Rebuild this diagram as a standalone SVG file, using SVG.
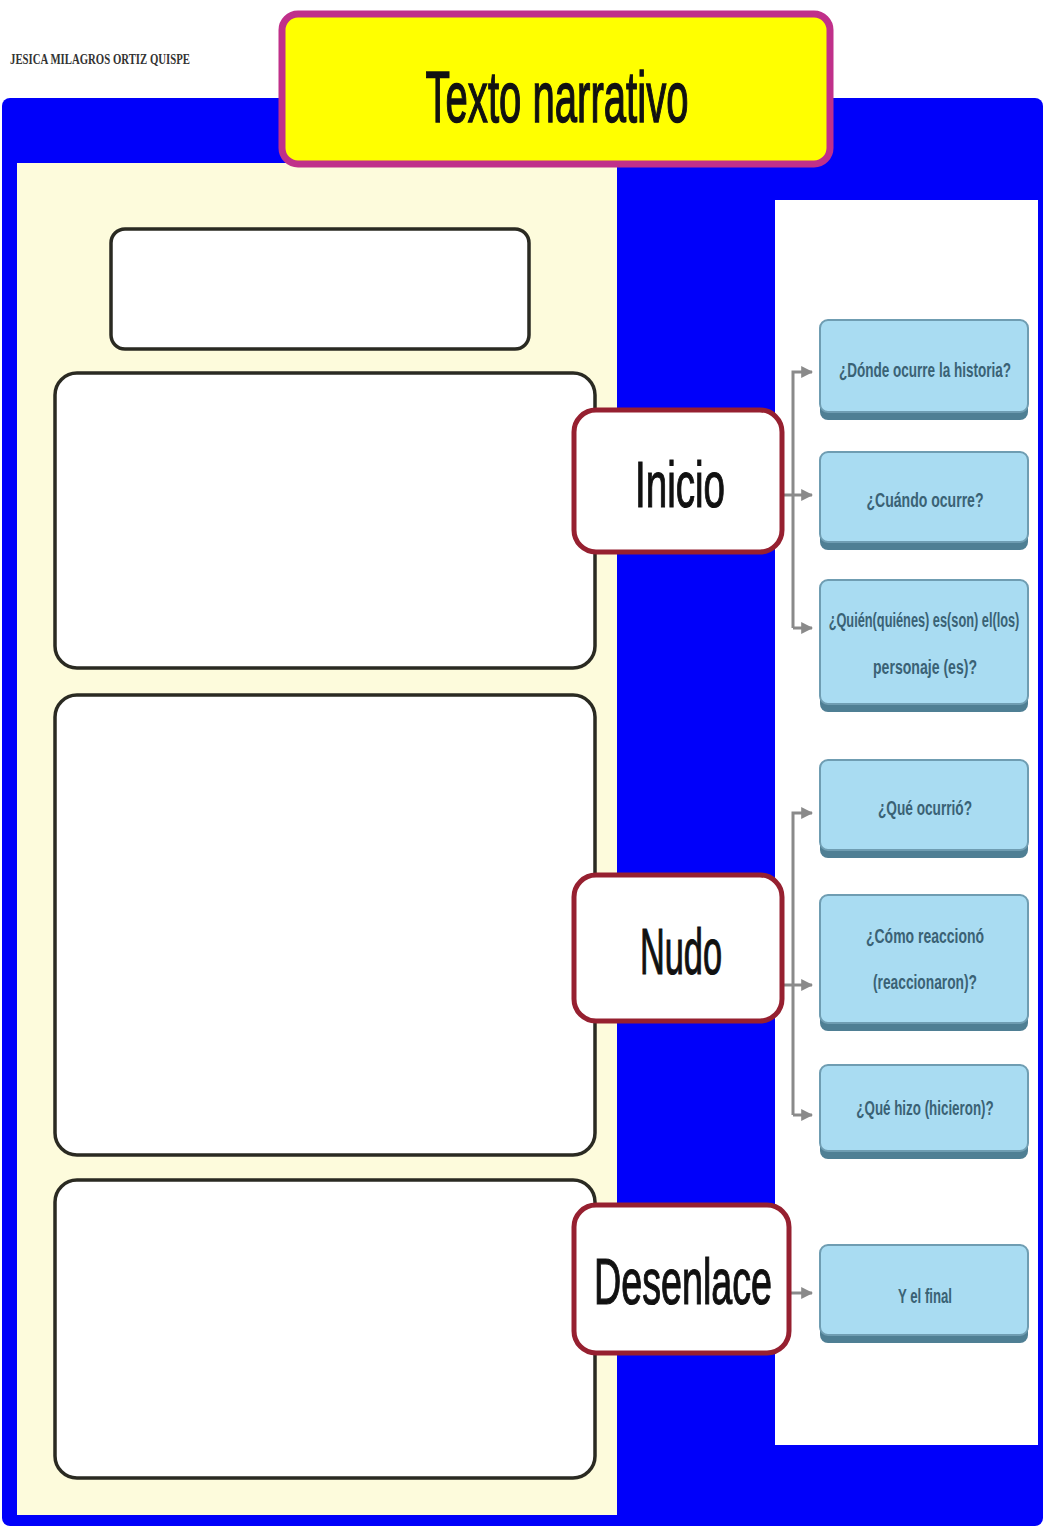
<svg xmlns="http://www.w3.org/2000/svg" width="1043" height="1532" viewBox="0 0 1043 1532">
  <style>
    .wbox { fill: #ffffff; stroke: #2a2a22; stroke-width: 3.5; }
    .stage { fill: #ffffff; stroke: #962030; stroke-width: 5; }
    .stagetxt { font-family: "Liberation Sans", Arial, sans-serif; font-size: 64px; fill: #111; stroke: #111; stroke-width: 1.2; text-anchor: middle; }
    .q { fill: #a9dcf2; stroke: #6f9db2; stroke-width: 2; }
    .qsh { fill: #4f7f94; }
    .qtxt { font-family: "Liberation Sans", Arial, sans-serif; font-size: 20px; font-weight: bold; fill: #3a6275; text-anchor: middle; }
    .conn { fill: none; stroke: #8a8a8a; stroke-width: 3; }
  </style>
  <defs>
    <marker id="arr" viewBox="0 0 10 10" refX="9" refY="5" markerWidth="4" markerHeight="4" orient="auto">
      <path d="M0,0 L10,5 L0,10 z" fill="#8a8a8a"/>
    </marker>
  </defs>
  <rect width="1043" height="1532" fill="#ffffff"/>
  <g id="frame">
    <rect x="2" y="98" width="1041" height="1428" rx="8" fill="#0000fa"/>
    <rect x="17" y="163" width="600" height="1352" fill="#fdfbdc"/>
    <rect x="775" y="200" width="263" height="1245" fill="#ffffff"/>
  </g>
  <text x="10" y="64" font-family="Liberation Serif, serif" font-size="14" font-weight="bold" fill="#333" textLength="180" lengthAdjust="spacingAndGlyphs">JESICA MILAGROS ORTIZ QUISPE</text>
  <g id="title">
    <rect x="282" y="14" width="548" height="150" rx="16" fill="#ffff00" stroke="#c0308a" stroke-width="7"/>
    <text x="557" y="122" font-family="Liberation Sans, Arial, sans-serif" font-size="72" fill="#111" stroke="#111" stroke-width="1.5" text-anchor="middle" textLength="263" lengthAdjust="spacingAndGlyphs">Texto narrativo</text>
  </g>
  <g id="box-title"><rect class="wbox" x="111" y="229" width="418" height="120" rx="14"/></g>
  <g id="box-inicio"><rect class="wbox" x="55" y="373" width="540" height="295" rx="22"/></g>
  <g id="box-nudo"><rect class="wbox" x="55" y="695" width="540" height="460" rx="22"/></g>
  <g id="box-desenlace"><rect class="wbox" x="55" y="1180" width="540" height="298" rx="22"/></g>
  <g id="connectors">
    <path class="conn" d="M783,495 L812,495" marker-end="url(#arr)"/>
    <path class="conn" d="M793,628 L793,372 L812,372" marker-end="url(#arr)"/>
    <path class="conn" d="M793,628 L812,628" marker-end="url(#arr)"/>
    <path class="conn" d="M783,985 L812,985" marker-end="url(#arr)"/>
    <path class="conn" d="M793,1115 L793,813 L812,813" marker-end="url(#arr)"/>
    <path class="conn" d="M793,1115 L812,1115" marker-end="url(#arr)"/>
    <path class="conn" d="M790,1293 L812,1293" marker-end="url(#arr)"/>
  </g>
  <g id="inicio">
    <rect class="stage" x="574" y="410" width="208" height="142" rx="22"/>
    <text class="stagetxt" x="680" y="507" textLength="90" lengthAdjust="spacingAndGlyphs">Inicio</text>
  </g>
  <g id="nudo">
    <rect class="stage" x="574" y="875" width="208" height="146" rx="22"/>
    <text class="stagetxt" x="681" y="974" textLength="82" lengthAdjust="spacingAndGlyphs">Nudo</text>
  </g>
  <g id="desenlace">
    <rect class="stage" x="574" y="1205" width="215" height="148" rx="22"/>
    <text class="stagetxt" x="683" y="1304" textLength="178" lengthAdjust="spacingAndGlyphs">Desenlace</text>
  </g>
  <g id="q1">
    <rect class="qsh" x="820" y="322" width="208" height="98" rx="8"/>
    <rect class="q" x="820" y="320" width="208" height="92" rx="8"/>
    <text class="qtxt" transform="translate(925,377) scale(0.68,1)" x="0" y="0" textLength="253" lengthAdjust="spacingAndGlyphs">¿Dónde ocurre la historia?</text>
  </g>
  <g id="q2">
    <rect class="qsh" x="820" y="454" width="208" height="96" rx="8"/>
    <rect class="q" x="820" y="452" width="208" height="90" rx="8"/>
    <text class="qtxt" x="925" y="507" textLength="117" lengthAdjust="spacingAndGlyphs">¿Cuándo ocurre?</text>
  </g>
  <g id="q3">
    <rect class="qsh" x="820" y="582" width="208" height="130" rx="8"/>
    <rect class="q" x="820" y="580" width="208" height="124" rx="8"/>
    <text class="qtxt" transform="translate(924,627) scale(0.64,1)" x="0" y="0" textLength="298" lengthAdjust="spacingAndGlyphs">¿Quién(quiénes) es(son) el(los)</text>
    <text class="qtxt" x="925" y="674" textLength="104" lengthAdjust="spacingAndGlyphs">personaje (es)?</text>
  </g>
  <g id="q4">
    <rect class="qsh" x="820" y="762" width="208" height="96" rx="8"/>
    <rect class="q" x="820" y="760" width="208" height="90" rx="8"/>
    <text class="qtxt" x="925" y="815" textLength="94" lengthAdjust="spacingAndGlyphs">¿Qué ocurrió?</text>
  </g>
  <g id="q5">
    <rect class="qsh" x="820" y="897" width="208" height="134" rx="8"/>
    <rect class="q" x="820" y="895" width="208" height="128" rx="8"/>
    <text class="qtxt" x="925" y="943" textLength="118" lengthAdjust="spacingAndGlyphs">¿Cómo reaccionó</text>
    <text class="qtxt" x="925" y="989" textLength="104" lengthAdjust="spacingAndGlyphs">(reaccionaron)?</text>
  </g>
  <g id="q6">
    <rect class="qsh" x="820" y="1067" width="208" height="92" rx="8"/>
    <rect class="q" x="820" y="1065" width="208" height="86" rx="8"/>
    <text class="qtxt" transform="translate(925,1115) scale(0.67,1)" x="0" y="0" textLength="205" lengthAdjust="spacingAndGlyphs">¿Qué hizo (hicieron)?</text>
  </g>
  <g id="q7">
    <rect class="qsh" x="820" y="1247" width="208" height="96" rx="8"/>
    <rect class="q" x="820" y="1245" width="208" height="90" rx="8"/>
    <text class="qtxt" x="925" y="1303" textLength="54" lengthAdjust="spacingAndGlyphs">Y el final</text>
  </g>
</svg>
